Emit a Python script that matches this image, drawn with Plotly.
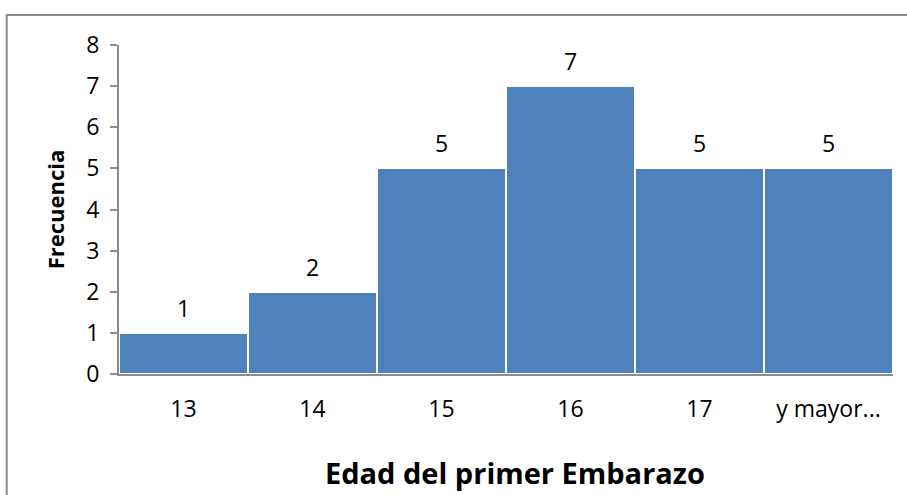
import plotly.graph_objects as go

# Frequency of age at first pregnancy
categorias = ["13", "14", "15", "16", "17", "y mayor..."]
frecuencias = [1, 2, 5, 7, 5, 5]
ticks_y = [0, 1, 2, 3, 4, 5, 6, 7, 8]

FONT = "Open Sans"
AZUL = "#4F81BD"
GRIS = "#8C8C8C"
TAM = 23

fig = go.Figure()
fig.add_trace(go.Bar(
    x=categorias,
    y=frecuencias,
    marker=dict(color=AZUL, line=dict(color="white", width=2)),
    hoverinfo="x+y",
))

# value labels above each bar (category index keeps them on the bars)
for i, v in enumerate(frecuencias):
    fig.add_annotation(
        x=i, y=v, text=str(v), showarrow=False,
        yanchor="middle", yshift=25,
        font=dict(family=FONT, size=TAM, color="black"),
    )

# x axis title, placed slightly right of the plot centre
fig.add_annotation(
    xref="paper", yref="paper", x=0.5, y=-0.298, xshift=9,
    xanchor="center", yanchor="middle", showarrow=False,
    text="<b>Edad del primer Embarazo</b>",
    font=dict(family=FONT, size=29, color="black"),
)

# outer chart frame
fig.add_shape(
    type="rect", xref="paper", yref="paper",
    x0=-0.1451, x1=1.5, y0=-0.5, y1=1.0912,
    line=dict(color=GRIS, width=2), fillcolor="rgba(0,0,0,0)", layer="below",
)

fig.update_layout(
    width=907, height=495,
    margin=dict(l=119, r=14, t=45, b=121, autoexpand=False),
    paper_bgcolor="white", plot_bgcolor="white",
    bargap=0, showlegend=False,
    font=dict(family=FONT, size=TAM, color="black"),
    xaxis=dict(
        type="category", automargin=False,
        showline=True, linecolor=GRIS, linewidth=2,
        ticks="", ticklabelstandoff=13, tickangle=0,
        tickfont=dict(family=FONT, size=TAM, color="black"),
        showgrid=False, zeroline=False,
    ),
    yaxis=dict(
        range=[0, 8], tickvals=ticks_y, automargin=False,
        showline=True, linecolor=GRIS, linewidth=2,
        ticks="outside", ticklen=7, tickcolor=GRIS, tickwidth=2,
        ticklabelstandoff=6,
        tickfont=dict(family=FONT, size=TAM, color="black"),
        title=dict(text="<b>Frecuencia</b>", standoff=16,
                   font=dict(family=FONT, size=22, color="black")),
        showgrid=False, zeroline=False,
    ),
)

fig.write_html("out.html")
